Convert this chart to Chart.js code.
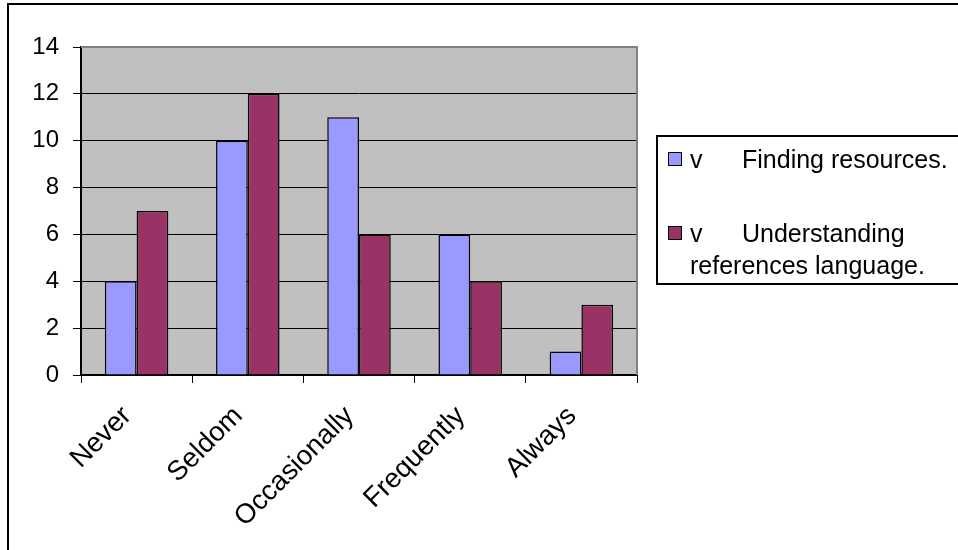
<!DOCTYPE html>
<html>
<head>
<meta charset="utf-8">
<script src="https://cdn.jsdelivr.net/npm/chart.js@4/dist/chart.umd.min.js"></script>
<style>
  html, body { margin: 0; padding: 0; background: #fff; }
  canvas { display: block; }
</style>
</head>
<body>
<canvas id="c" width="958" height="550"></canvas>
<script>
// Survey responses per frequency category
const categories = ['Never', 'Seldom', 'Occasionally', 'Frequently', 'Always'];
const findingResources = [4, 10, 11, 6, 1];
const understandingLanguage = [7, 12, 6, 4, 3];
const seriesNames = ['Finding resources.', 'Understanding references language.'];
const seriesColors = ['#9999FF', '#993366'];
const yMin = 0, yMax = 14, yStep = 2;

const FONT = '"Liberation Sans", Arial, Helvetica, sans-serif';

// Page frame, grey plot area and its top/right edges
const plotFrame = {
  id: 'plotFrame',
  beforeDraw(chart) {
    const { ctx, chartArea: a } = chart;
    ctx.save();
    ctx.fillStyle = '#fff';
    ctx.fillRect(0, 0, chart.width, chart.height);
    ctx.strokeStyle = '#000';
    ctx.lineWidth = 2;
    ctx.strokeRect(8, 4, chart.width + 20, chart.height + 20);
    ctx.fillStyle = '#C0C0C0';
    ctx.fillRect(a.left, a.top, a.right - a.left, a.bottom - a.top);
    ctx.restore();
  },
  beforeDatasetsDraw(chart) {
    const { ctx, chartArea: a } = chart;
    ctx.save();
    ctx.strokeStyle = '#808080';
    ctx.lineWidth = 2;
    ctx.beginPath();
    ctx.moveTo(a.left, a.top);
    ctx.lineTo(a.right, a.top);
    ctx.lineTo(a.right, a.bottom);
    ctx.stroke();
    ctx.restore();
  }
};

// Category names, slanted 45 degrees and ending just left of each category centre
const slantedLabels = {
  id: 'slantedLabels',
  afterDraw(chart) {
    const { ctx } = chart;
    const xs = chart.scales.x;
    ctx.save();
    ctx.font = '27.5px ' + FONT;
    ctx.fillStyle = '#000';
    ctx.textAlign = 'right';
    ctx.textBaseline = 'alphabetic';
    chart.data.labels.forEach((lab, i) => {
      const px = xs.getPixelForValue(i);
      ctx.save();
      ctx.translate(px - 4, xs.top + 42);
      ctx.rotate(-Math.PI / 4);
      ctx.fillText(lab, 0, 0);
      ctx.restore();
    });
    ctx.restore();
  }
};

// Boxed legend at the right, with wrapped second entry
const boxLegend = {
  id: 'boxLegend',
  afterDraw(chart) {
    const { ctx } = chart;
    const ds = chart.data.datasets;
    ctx.save();
    ctx.fillStyle = '#fff';
    ctx.strokeStyle = '#000';
    ctx.lineWidth = 2;
    ctx.fillRect(657, 136, 320, 148);
    ctx.strokeRect(657, 136, 320, 148);
    ctx.font = '25px ' + FONT;
    ctx.textBaseline = 'alphabetic';
    ctx.textAlign = 'left';
    const rows = [
      { sq: 152, lines: [[742, 168, ds[0].label]] },
      { sq: 226, lines: [[742, 242, 'Understanding'], [690, 274, 'references language.']] }
    ];
    rows.forEach((r, i) => {
      ctx.fillStyle = ds[i].backgroundColor;
      ctx.fillRect(668, r.sq, 14, 14);
      ctx.lineWidth = 1;
      ctx.strokeStyle = '#000';
      ctx.strokeRect(668.5, r.sq + 0.5, 13, 13);
      ctx.fillStyle = '#000';
      ctx.fillText('v', 690, r.lines[0][1]);
      r.lines.forEach(([x, y, t]) => ctx.fillText(t, x, y));
    });
    ctx.restore();
  }
};

new Chart(document.getElementById('c'), {
  type: 'bar',
  data: {
    labels: categories,
    datasets: [
      { label: seriesNames[0], data: findingResources, backgroundColor: seriesColors[0],
        borderColor: '#000', borderWidth: 1.5, categoryPercentage: 0.571, barPercentage: 1 },
      { label: seriesNames[1], data: understandingLanguage, backgroundColor: seriesColors[1],
        borderColor: '#000', borderWidth: 1.5, categoryPercentage: 0.571, barPercentage: 1 }
    ]
  },
  options: {
    responsive: false,
    animation: false,
    layout: { padding: { top: 47, right: 321, left: 0, bottom: 0 } },
    plugins: { legend: { display: false }, tooltip: { enabled: false } },
    scales: {
      x: {
        grid: { drawOnChartArea: false, drawTicks: true, tickLength: 8, tickColor: '#000', offset: true },
        border: { color: '#000', width: 2 },
        ticks: { display: false },
        afterFit(s) { s.height = 175; }
      },
      y: {
        min: yMin, max: yMax,
        ticks: { stepSize: yStep, color: '#000', font: { family: FONT, size: 24 }, padding: 14 },
        grid: {
          color: c => (c.tick && c.tick.value === yMax) ? 'rgba(0,0,0,0)' : '#000',
          tickColor: '#000', tickLength: 8, lineWidth: 1
        },
        border: { color: '#000', width: 2 },
        afterFit(s) { s.width = 81; }
      }
    }
  },
  plugins: [plotFrame, slantedLabels, boxLegend]
});
</script>
</body>
</html>
